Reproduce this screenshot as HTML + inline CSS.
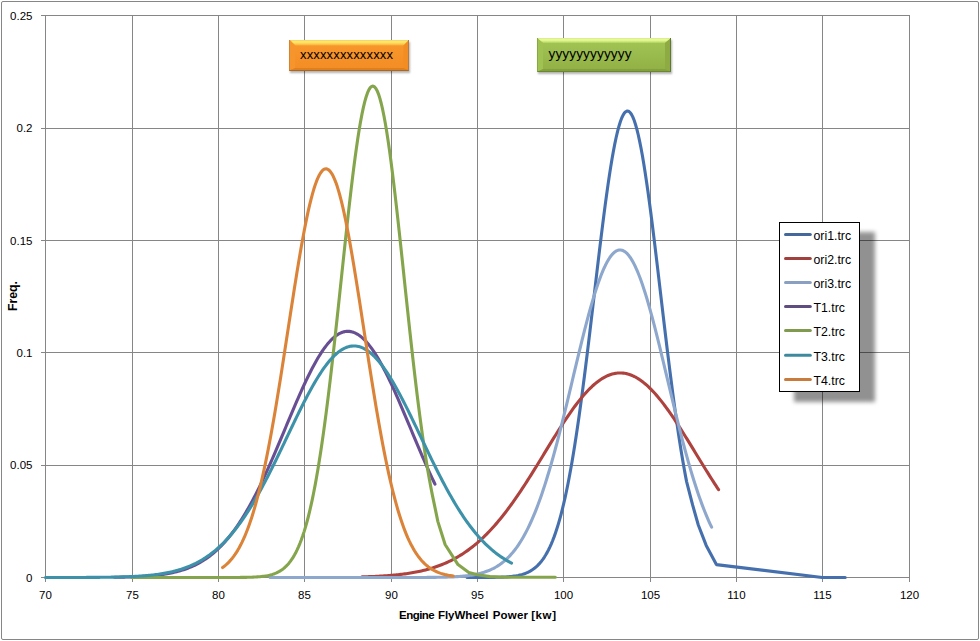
<!DOCTYPE html>
<html><head><meta charset="utf-8"><style>
html,body{margin:0;padding:0;background:#fff;}
body{width:980px;height:641px;position:relative;overflow:hidden;font-family:"Liberation Sans",sans-serif;color:#000;-webkit-font-smoothing:antialiased;}
.frame{position:absolute;left:1px;top:1px;width:978px;height:639px;box-sizing:border-box;border:1px solid #868686;border-radius:2px;}
svg{position:absolute;left:0;top:0;}
.yl{position:absolute;left:0;width:32.5px;text-align:right;font-size:11.5px;line-height:16px;}
.xl{position:absolute;top:587px;width:61px;text-align:center;font-size:11.5px;line-height:16px;}
.xw{position:absolute;top:606.5px;font-size:11.5px;font-weight:bold;line-height:16px;white-space:nowrap;}
.yt{position:absolute;left:4.5px;top:288px;width:16px;height:16px;font-size:12.3px;font-weight:bold;line-height:16px;}
.yt span{position:absolute;left:50%;top:50%;transform:translate(-50%,-50%) rotate(-90deg);white-space:nowrap;}
.legshadow{position:absolute;left:794px;top:232px;width:81px;height:170px;background:rgba(0,0,0,0.43);filter:blur(2px);}
.leg{position:absolute;left:779px;top:222px;width:81px;height:170px;box-sizing:border-box;border:1px solid #000;background:#fff;}
.lt{position:absolute;left:813.5px;font-size:12.3px;line-height:16px;}
.box{position:absolute;box-sizing:border-box;}
.box .t{position:absolute;left:0;right:0;top:0;bottom:0;}
</style></head><body>
<div class="frame"></div>
<svg width="980" height="641">
<g stroke="#868686" stroke-width="1" fill="none" shape-rendering="crispEdges">
<line x1="45.5" y1="15" x2="45.5" y2="582" />
<line x1="132.5" y1="15" x2="132.5" y2="582" />
<line x1="218.5" y1="15" x2="218.5" y2="582" />
<line x1="304.5" y1="15" x2="304.5" y2="582" />
<line x1="391.5" y1="15" x2="391.5" y2="582" />
<line x1="477.5" y1="15" x2="477.5" y2="582" />
<line x1="563.5" y1="15" x2="563.5" y2="582" />
<line x1="650.5" y1="15" x2="650.5" y2="582" />
<line x1="736.5" y1="15" x2="736.5" y2="582" />
<line x1="822.5" y1="15" x2="822.5" y2="582" />
<line x1="909.5" y1="15" x2="909.5" y2="582" />
<line x1="41" y1="15.5" x2="909.5" y2="15.5" />
<line x1="41" y1="128.5" x2="909.5" y2="128.5" />
<line x1="41" y1="240.5" x2="909.5" y2="240.5" />
<line x1="41" y1="352.5" x2="909.5" y2="352.5" />
<line x1="41" y1="465.5" x2="909.5" y2="465.5" />
<line x1="41" y1="577.5" x2="909.5" y2="577.5" />
</g>
<g fill="none" stroke-width="3.1" stroke-linecap="round" stroke-linejoin="round">
<path d="M467.13,577.50 468.51,577.50 469.89,577.49 471.27,577.49 472.65,577.49 474.03,577.49 475.41,577.49 476.79,577.48 478.17,577.48 479.55,577.48 480.93,577.47 482.31,577.47 483.69,577.46 485.07,577.45 486.46,577.44 487.84,577.43 489.22,577.42 490.60,577.40 491.98,577.39 493.36,577.37 494.74,577.34 496.12,577.31 497.50,577.28 498.88,577.24 500.26,577.20 501.64,577.14 503.02,577.08 504.40,577.01 505.78,576.93 507.16,576.84 508.54,576.73 509.92,576.61 511.30,576.47 512.68,576.31 514.06,576.13 515.44,575.92 516.82,575.68 518.20,575.42 519.58,575.11 520.96,574.77 522.34,574.38 523.72,573.95 525.10,573.46 526.48,572.91 527.86,572.30 529.24,571.61 530.62,570.85 532.00,570.00 533.38,569.06 534.76,568.01 536.14,566.85 537.52,565.58 538.90,564.17 540.28,562.62 541.66,560.92 543.04,559.06 544.42,557.02 545.80,554.80 547.19,552.38 548.57,549.75 549.95,546.89 551.33,543.81 552.71,540.47 554.09,536.88 555.47,533.01 556.85,528.86 558.23,524.41 559.61,519.66 560.99,514.59 562.37,509.19 563.75,503.46 565.13,497.39 566.51,490.97 567.89,484.19 569.27,477.06 570.65,469.56 572.03,461.71 573.41,453.50 574.79,444.94 576.17,436.03 577.55,426.79 578.93,417.21 580.31,407.33 581.69,397.14 583.07,386.67 584.45,375.95 585.83,364.99 587.21,353.82 588.59,342.46 589.97,330.96 591.35,319.34 592.73,307.64 594.11,295.90 595.49,284.15 596.87,272.43 598.25,260.80 599.63,249.29 601.01,237.95 602.39,226.82 603.77,215.96 605.15,205.39 606.53,195.19 607.92,185.37 609.30,176.00 610.68,167.12 612.06,158.76 613.44,150.97 614.82,143.78 616.20,137.23 617.58,131.35 618.96,126.18 620.34,121.73 621.72,118.03 623.10,115.10 624.48,112.95 625.86,111.60 627.24,111.05 628.62,111.31 630.00,112.37 631.38,114.22 632.76,116.87 634.14,120.29 635.52,124.47 636.90,129.38 638.28,135.00 639.66,141.31 641.04,148.27 642.42,155.84 643.80,164.00 645.18,172.70 646.56,181.90 647.94,191.55 649.32,201.62 650.70,212.06 652.08,222.82 653.46,233.86 654.84,245.13 656.22,256.58 657.60,268.17 658.98,279.86 660.36,291.60 661.74,303.35 663.12,315.07 664.50,326.73 665.88,338.28 667.26,349.69 668.65,360.93 670.03,371.97 671.41,382.78 672.79,393.35 674.17,403.64 675.55,413.64 676.93,423.33 678.31,432.69 679.69,441.73 681.07,450.42 682.45,458.75 683.83,466.74 685.21,474.36 686.59,481.62 692.60,504.90 698.30,525.00 706.20,545.40 716.40,564.60 822.24,577.50 845.22,577.50" stroke="#4570ad"/>
<path d="M362.07,576.88 363.45,576.84 364.83,576.80 366.21,576.75 367.60,576.71 368.98,576.66 370.36,576.61 371.74,576.55 373.12,576.49 374.51,576.43 375.89,576.37 377.27,576.30 378.65,576.22 380.03,576.15 381.41,576.07 382.80,575.98 384.18,575.89 385.56,575.80 386.94,575.70 388.32,575.60 389.70,575.49 391.09,575.38 392.47,575.26 393.85,575.13 395.23,575.00 396.61,574.86 397.99,574.71 399.38,574.56 400.76,574.40 402.14,574.23 403.52,574.06 404.90,573.88 406.28,573.68 407.67,573.48 409.05,573.27 410.43,573.05 411.81,572.82 413.19,572.58 414.58,572.33 415.96,572.07 417.34,571.80 418.72,571.52 420.10,571.22 421.48,570.91 422.87,570.59 424.25,570.26 425.63,569.91 427.01,569.54 428.39,569.17 429.77,568.77 431.16,568.37 432.54,567.94 433.92,567.50 435.30,567.05 436.68,566.57 438.06,566.08 439.45,565.57 440.83,565.05 442.21,564.50 443.59,563.93 444.97,563.35 446.36,562.74 447.74,562.11 449.12,561.46 450.50,560.79 451.88,560.10 453.26,559.38 454.65,558.64 456.03,557.88 457.41,557.09 458.79,556.28 460.17,555.44 461.55,554.58 462.94,553.69 464.32,552.78 465.70,551.84 467.08,550.87 468.46,549.88 469.84,548.86 471.23,547.81 472.61,546.73 473.99,545.62 475.37,544.49 476.75,543.32 478.13,542.13 479.52,540.90 480.90,539.65 482.28,538.37 483.66,537.05 485.04,535.71 486.43,534.34 487.81,532.93 489.19,531.50 490.57,530.03 491.95,528.54 493.33,527.01 494.72,525.46 496.10,523.87 497.48,522.26 498.86,520.61 500.24,518.94 501.62,517.23 503.01,515.50 504.39,513.74 505.77,511.95 507.15,510.13 508.53,508.29 509.91,506.41 511.30,504.52 512.68,502.59 514.06,500.64 515.44,498.67 516.82,496.67 518.21,494.65 519.59,492.61 520.97,490.54 522.35,488.46 523.73,486.35 525.11,484.23 526.50,482.09 527.88,479.93 529.26,477.76 530.64,475.57 532.02,473.37 533.40,471.16 534.79,468.93 536.17,466.70 537.55,464.46 538.93,462.21 540.31,459.96 541.69,457.70 543.08,455.44 544.46,453.17 545.84,450.91 547.22,448.65 548.60,446.39 549.98,444.14 551.37,441.89 552.75,439.65 554.13,437.42 555.51,435.21 556.89,433.00 558.28,430.81 559.66,428.64 561.04,426.48 562.42,424.35 563.80,422.23 565.18,420.14 566.57,418.07 567.95,416.03 569.33,414.02 570.71,412.04 572.09,410.09 573.47,408.18 574.86,406.29 576.24,404.45 577.62,402.64 579.00,400.88 580.38,399.15 581.76,397.47 583.15,395.83 584.53,394.24 585.91,392.70 587.29,391.20 588.67,389.76 590.06,388.36 591.44,387.03 592.82,385.74 594.20,384.51 595.58,383.34 596.96,382.22 598.35,381.17 599.73,380.17 601.11,379.23 602.49,378.36 603.87,377.55 605.25,376.80 606.64,376.12 608.02,375.50 609.40,374.95 610.78,374.46 612.16,374.04 613.54,373.69 614.93,373.40 616.31,373.18 617.69,373.03 619.07,372.95 620.45,372.93 621.83,372.99 623.22,373.11 624.60,373.30 625.98,373.56 627.36,373.88 628.74,374.27 630.13,374.73 631.51,375.25 632.89,375.84 634.27,376.50 635.65,377.22 637.03,378.00 638.42,378.85 639.80,379.76 641.18,380.73 642.56,381.76 643.94,382.85 645.32,384.00 646.71,385.20 648.09,386.46 649.47,387.78 650.85,389.15 652.23,390.57 653.61,392.05 655.00,393.57 656.38,395.14 657.76,396.76 659.14,398.42 660.52,400.13 661.91,401.88 663.29,403.67 664.67,405.49 666.05,407.36 667.43,409.26 668.81,411.20 670.20,413.17 671.58,415.16 672.96,417.19 674.34,419.25 675.72,421.33 677.10,423.43 678.49,425.56 679.87,427.71 681.25,429.87 682.63,432.06 684.01,434.25 685.39,436.47 686.78,438.69 688.16,440.93 689.54,443.17 690.92,445.42 692.30,447.68 693.68,449.93 695.07,452.20 696.45,454.46 697.83,456.72 699.21,458.98 700.59,461.24 701.98,463.49 703.36,465.74 704.74,467.97 706.12,470.20 707.50,472.42 708.88,474.63 710.27,476.82 711.65,479.00 713.03,481.16 714.41,483.31 715.79,485.44 717.17,487.55 718.56,489.65" stroke="#ad423e"/>
<path d="M270.14,577.50 271.52,577.50 272.90,577.50 274.28,577.50 275.66,577.50 277.04,577.50 278.42,577.50 279.80,577.50 281.18,577.50 282.56,577.50 283.94,577.50 285.32,577.50 286.70,577.50 288.08,577.50 289.46,577.50 290.84,577.50 292.22,577.50 293.59,577.50 294.97,577.50 296.35,577.50 297.73,577.50 299.11,577.50 300.49,577.50 301.87,577.50 303.25,577.50 304.63,577.50 306.01,577.50 307.39,577.50 308.77,577.50 310.15,577.50 311.53,577.50 312.91,577.50 314.29,577.50 315.67,577.50 317.05,577.50 318.43,577.50 319.81,577.50 321.19,577.50 322.57,577.50 323.95,577.50 325.33,577.50 326.71,577.50 328.09,577.50 329.47,577.50 330.85,577.50 332.23,577.50 333.61,577.50 334.99,577.50 336.37,577.50 337.75,577.50 339.12,577.50 340.50,577.50 341.88,577.50 343.26,577.50 344.64,577.50 346.02,577.50 347.40,577.50 348.78,577.50 350.16,577.50 351.54,577.50 352.92,577.50 354.30,577.50 355.68,577.50 357.06,577.50 358.44,577.50 359.82,577.50 361.20,577.50 362.58,577.50 363.96,577.50 365.34,577.50 366.72,577.50 368.10,577.50 369.48,577.50 370.86,577.50 372.24,577.50 373.62,577.50 375.00,577.50 376.38,577.50 377.76,577.50 379.14,577.50 380.52,577.50 381.90,577.50 383.28,577.50 384.66,577.50 386.03,577.50 387.41,577.50 388.79,577.50 390.17,577.50 391.55,577.50 392.93,577.50 394.31,577.50 395.69,577.50 397.07,577.50 398.45,577.49 399.83,577.49 401.21,577.49 402.59,577.49 403.97,577.49 405.35,577.49 406.73,577.49 408.11,577.49 409.49,577.48 410.87,577.48 412.25,577.48 413.63,577.48 415.01,577.47 416.39,577.47 417.77,577.46 419.15,577.46 420.53,577.45 421.91,577.45 423.29,577.44 424.67,577.44 426.05,577.43 427.43,577.42 428.81,577.41 430.19,577.40 431.56,577.38 432.94,577.37 434.32,577.35 435.70,577.33 437.08,577.31 438.46,577.29 439.84,577.27 441.22,577.24 442.60,577.21 443.98,577.18 445.36,577.14 446.74,577.10 448.12,577.06 449.50,577.01 450.88,576.95 452.26,576.89 453.64,576.83 455.02,576.75 456.40,576.67 457.78,576.59 459.16,576.49 460.54,576.39 461.92,576.27 463.30,576.15 464.68,576.01 466.06,575.86 467.44,575.70 468.82,575.52 470.20,575.33 471.58,575.12 472.96,574.89 474.34,574.65 475.72,574.38 477.10,574.09 478.47,573.78 479.85,573.44 481.23,573.08 482.61,572.68 483.99,572.26 485.37,571.80 486.75,571.31 488.13,570.79 489.51,570.22 490.89,569.61 492.27,568.96 493.65,568.27 495.03,567.52 496.41,566.73 497.79,565.88 499.17,564.98 500.55,564.01 501.93,562.99 503.31,561.90 504.69,560.74 506.07,559.52 507.45,558.22 508.83,556.84 510.21,555.38 511.59,553.84 512.97,552.22 514.35,550.51 515.73,548.70 517.11,546.80 518.49,544.80 519.87,542.71 521.25,540.51 522.63,538.20 524.00,535.79 525.38,533.26 526.76,530.62 528.14,527.87 529.52,525.00 530.90,522.01 532.28,518.90 533.66,515.67 535.04,512.31 536.42,508.84 537.80,505.24 539.18,501.51 540.56,497.66 541.94,493.69 543.32,489.59 544.70,485.37 546.08,481.03 547.46,476.58 548.84,472.00 550.22,467.32 551.60,462.52 552.98,457.61 554.36,452.61 555.74,447.50 557.12,442.30 558.50,437.01 559.88,431.64 561.26,426.20 562.64,420.68 564.02,415.10 565.40,409.46 566.78,403.78 568.16,398.06 569.53,392.30 570.91,386.52 572.29,380.74 573.67,374.94 575.05,369.16 576.43,363.39 577.81,357.65 579.19,351.94 580.57,346.29 581.95,340.69 583.33,335.17 584.71,329.73 586.09,324.38 587.47,319.13 588.85,314.00 590.23,309.00 591.61,304.13 592.99,299.42 594.37,294.86 595.75,290.47 597.13,286.26 598.51,282.24 599.89,278.42 601.27,274.81 602.65,271.41 604.03,268.24 605.41,265.30 606.79,262.60 608.17,260.15 609.55,257.95 610.93,256.01 612.31,254.34 613.69,252.93 615.07,251.79 616.44,250.92 617.82,250.33 619.20,250.02 620.58,249.99 621.96,250.23 623.34,250.75 624.72,251.55 626.10,252.63 627.48,253.97 628.86,255.59 630.24,257.46 631.62,259.60 633.00,261.99 634.38,264.63 635.76,267.51 637.14,270.63 638.52,273.97 639.90,277.53 641.28,281.30 642.66,285.28 644.04,289.44 645.42,293.79 646.80,298.30 648.18,302.98 649.56,307.81 650.94,312.79 652.32,317.89 653.70,323.10 655.08,328.43 656.46,333.85 657.84,339.36 659.22,344.94 660.60,350.58 661.97,356.27 663.35,362.00 664.73,367.77 666.11,373.55 667.49,379.34 668.87,385.13 670.25,390.91 671.63,396.67 673.01,402.40 674.39,408.10 675.77,413.75 677.15,419.34 678.53,424.87 679.91,430.34 681.29,435.73 682.67,441.04 684.05,446.26 685.43,451.39 686.81,456.42 688.19,461.35 689.57,466.17 690.95,470.88 692.33,475.49 693.71,479.97 695.09,484.34 696.47,488.59 697.85,492.71 699.23,496.72 700.61,500.59 701.99,504.35 703.37,507.98 704.75,511.49 706.13,514.87 707.50,518.13 708.88,521.27 710.26,524.29 711.64,527.19" stroke="#8ea7cd"/>
<path d="M114.62,577.26 116.00,577.24 117.38,577.22 118.76,577.20 120.14,577.17 121.52,577.15 122.91,577.12 124.29,577.09 125.67,577.05 127.05,577.02 128.43,576.98 129.81,576.94 131.19,576.89 132.57,576.84 133.95,576.79 135.33,576.73 136.71,576.68 138.10,576.61 139.48,576.54 140.86,576.47 142.24,576.39 143.62,576.31 145.00,576.22 146.38,576.13 147.76,576.03 149.14,575.92 150.52,575.80 151.90,575.68 153.29,575.55 154.67,575.42 156.05,575.27 157.43,575.11 158.81,574.95 160.19,574.77 161.57,574.59 162.95,574.39 164.33,574.18 165.71,573.96 167.09,573.72 168.48,573.48 169.86,573.21 171.24,572.94 172.62,572.64 174.00,572.34 175.38,572.01 176.76,571.67 178.14,571.31 179.52,570.93 180.90,570.52 182.28,570.10 183.67,569.66 185.05,569.19 186.43,568.70 187.81,568.19 189.19,567.65 190.57,567.09 191.95,566.50 193.33,565.88 194.71,565.23 196.09,564.55 197.47,563.84 198.86,563.10 200.24,562.32 201.62,561.52 203.00,560.67 204.38,559.79 205.76,558.88 207.14,557.93 208.52,556.93 209.90,555.90 211.28,554.83 212.66,553.72 214.05,552.56 215.43,551.36 216.81,550.11 218.19,548.82 219.57,547.49 220.95,546.11 222.33,544.68 223.71,543.20 225.09,541.67 226.47,540.09 227.85,538.46 229.24,536.78 230.62,535.05 232.00,533.27 233.38,531.43 234.76,529.54 236.14,527.60 237.52,525.61 238.90,523.56 240.28,521.46 241.66,519.30 243.04,517.10 244.43,514.83 245.81,512.52 247.19,510.15 248.57,507.73 249.95,505.26 251.33,502.74 252.71,500.16 254.09,497.54 255.47,494.87 256.85,492.15 258.23,489.39 259.62,486.58 261.00,483.72 262.38,480.82 263.76,477.89 265.14,474.91 266.52,471.89 267.90,468.84 269.28,465.76 270.66,462.64 272.04,459.50 273.42,456.33 274.81,453.13 276.19,449.91 277.57,446.67 278.95,443.42 280.33,440.15 281.71,436.87 283.09,433.58 284.47,430.29 285.85,426.99 287.23,423.70 288.61,420.41 290.00,417.12 291.38,413.85 292.76,410.60 294.14,407.36 295.52,404.14 296.90,400.95 298.28,397.79 299.66,394.66 301.04,391.56 302.42,388.51 303.80,385.50 305.19,382.53 306.57,379.62 307.95,376.76 309.33,373.96 310.71,371.22 312.09,368.55 313.47,365.94 314.85,363.41 316.23,360.95 317.61,358.57 318.99,356.27 320.38,354.06 321.76,351.93 323.14,349.89 324.52,347.95 325.90,346.11 327.28,344.36 328.66,342.72 330.04,341.17 331.42,339.74 332.80,338.41 334.18,337.19 335.57,336.08 336.95,335.09 338.33,334.21 339.71,333.45 341.09,332.80 342.47,332.27 343.85,331.86 345.23,331.57 346.61,331.40 347.99,331.34 349.37,331.41 350.76,331.60 352.14,331.91 353.52,332.33 354.90,332.88 356.28,333.54 357.66,334.32 359.04,335.22 360.42,336.23 361.80,337.35 363.18,338.58 364.56,339.93 365.95,341.38 367.33,342.93 368.71,344.59 370.09,346.35 371.47,348.21 372.85,350.17 374.23,352.21 375.61,354.35 376.99,356.58 378.37,358.89 379.75,361.28 381.14,363.75 382.52,366.29 383.90,368.91 385.28,371.59 386.66,374.34 388.04,377.15 389.42,380.01 390.80,382.93 392.18,385.90 393.56,388.92 394.94,391.98 396.33,395.08 397.71,398.21 399.09,401.38 400.47,404.58 401.85,407.80 403.23,411.04 404.61,414.30 405.99,417.57 407.37,420.85 408.75,424.14 410.13,427.44 411.52,430.73 412.90,434.03 414.28,437.31 415.66,440.59 417.04,443.86 418.42,447.11 419.80,450.35 421.18,453.57 422.56,456.76 423.94,459.93 425.32,463.07 426.71,466.18 428.09,469.26 429.47,472.31 430.85,475.32 432.23,478.29 433.61,481.22 434.99,484.11" stroke="#684f94"/>
<path d="M131.90,577.50 133.28,577.50 134.66,577.50 136.03,577.50 137.41,577.50 138.79,577.50 140.17,577.50 141.54,577.50 142.92,577.50 144.30,577.50 145.68,577.50 147.05,577.50 148.43,577.50 149.81,577.50 151.19,577.50 152.56,577.50 153.94,577.50 155.32,577.50 156.70,577.50 158.08,577.50 159.45,577.50 160.83,577.50 162.21,577.50 163.59,577.50 164.96,577.50 166.34,577.50 167.72,577.50 169.10,577.50 170.47,577.50 171.85,577.50 173.23,577.50 174.61,577.50 175.98,577.50 177.36,577.50 178.74,577.50 180.12,577.50 181.50,577.50 182.87,577.50 184.25,577.50 185.63,577.50 187.01,577.50 188.38,577.50 189.76,577.50 191.14,577.50 192.52,577.50 193.89,577.50 195.27,577.50 196.65,577.50 198.03,577.50 199.40,577.50 200.78,577.50 202.16,577.50 203.54,577.50 204.92,577.50 206.29,577.50 207.67,577.50 209.05,577.50 210.43,577.50 211.80,577.50 213.18,577.50 214.56,577.50 215.94,577.50 217.31,577.50 218.69,577.50 220.07,577.50 221.45,577.50 222.82,577.49 224.20,577.49 225.58,577.49 226.96,577.49 228.34,577.49 229.71,577.48 231.09,577.48 232.47,577.48 233.85,577.47 235.22,577.46 236.60,577.46 237.98,577.45 239.36,577.44 240.73,577.42 242.11,577.41 243.49,577.39 244.87,577.37 246.24,577.34 247.62,577.31 249.00,577.28 250.38,577.24 251.76,577.19 253.13,577.13 254.51,577.07 255.89,576.99 257.27,576.90 258.64,576.80 260.02,576.68 261.40,576.54 262.78,576.38 264.15,576.20 265.53,575.99 266.91,575.75 268.29,575.47 269.66,575.16 271.04,574.80 272.42,574.39 273.80,573.94 275.17,573.42 276.55,572.83 277.93,572.17 279.31,571.42 280.69,570.59 282.06,569.66 283.44,568.62 284.82,567.46 286.20,566.16 287.57,564.73 288.95,563.15 290.33,561.39 291.71,559.46 293.08,557.34 294.46,555.01 295.84,552.45 297.22,549.66 298.59,546.62 299.97,543.31 301.35,539.72 302.73,535.83 304.11,531.62 305.48,527.09 306.86,522.22 308.24,516.99 309.62,511.40 310.99,505.42 312.37,499.05 313.75,492.29 315.13,485.12 316.50,477.53 317.88,469.53 319.26,461.11 320.64,452.27 322.01,443.01 323.39,433.35 324.77,423.29 326.15,412.85 327.53,402.03 328.90,390.85 330.28,379.34 331.66,367.53 333.04,355.43 334.41,343.08 335.79,330.52 337.17,317.78 338.55,304.91 339.92,291.94 341.30,278.93 342.68,265.92 344.06,252.96 345.43,240.11 346.81,227.41 348.19,214.93 349.57,202.73 350.95,190.85 352.32,179.35 353.70,168.30 355.08,157.74 356.46,147.73 357.83,138.31 359.21,129.55 360.59,121.49 361.97,114.16 363.34,107.61 364.72,101.88 366.10,97.00 367.48,92.99 368.85,89.89 370.23,87.69 371.61,86.43 372.99,86.10 374.37,86.71 375.74,88.25 377.12,90.71 378.50,94.09 379.88,98.36 381.25,103.50 382.63,109.47 384.01,116.26 385.39,123.81 386.76,132.08 388.14,141.04 389.52,150.64 390.90,160.82 392.27,171.53 393.65,182.72 395.03,194.34 396.41,206.32 397.79,218.61 399.16,231.16 400.54,243.91 401.92,256.80 403.30,269.78 404.67,282.79 406.05,295.80 407.43,308.74 408.81,321.58 410.18,334.27 411.56,346.77 412.94,359.05 414.32,371.06 415.69,382.79 417.07,394.20 418.45,405.28 419.83,415.99 421.21,426.32 422.58,436.26 423.96,445.80 425.34,454.93 426.72,463.65 428.09,471.95 429.47,479.82 430.85,487.29 432.23,494.34 437.90,521.60 445.10,544.50 458.00,564.60 468.80,572.50 477.40,574.80 490.00,576.60 505.00,577.20 555.30,577.30" stroke="#85a54c"/>
<path d="M45.50,577.49 46.88,577.49 48.26,577.49 49.64,577.49 51.02,577.49 52.39,577.49 53.77,577.49 55.15,577.49 56.53,577.49 57.91,577.49 59.29,577.49 60.67,577.48 62.05,577.48 63.42,577.48 64.80,577.48 66.18,577.48 67.56,577.48 68.94,577.47 70.32,577.47 71.70,577.47 73.08,577.47 74.46,577.46 75.83,577.46 77.21,577.46 78.59,577.45 79.97,577.45 81.35,577.44 82.73,577.44 84.11,577.43 85.49,577.43 86.86,577.42 88.24,577.41 89.62,577.40 91.00,577.40 92.38,577.39 93.76,577.38 95.14,577.37 96.52,577.36 97.90,577.35 99.27,577.33 100.65,577.32 102.03,577.31 103.41,577.29 104.79,577.27 106.17,577.26 107.55,577.24 108.93,577.22 110.30,577.19 111.68,577.17 113.06,577.14 114.44,577.12 115.82,577.09 117.20,577.06 118.58,577.02 119.96,576.99 121.34,576.95 122.71,576.91 124.09,576.86 125.47,576.82 126.85,576.77 128.23,576.72 129.61,576.66 130.99,576.60 132.37,576.53 133.74,576.47 135.12,576.39 136.50,576.32 137.88,576.24 139.26,576.15 140.64,576.06 142.02,575.96 143.40,575.86 144.78,575.75 146.15,575.63 147.53,575.51 148.91,575.38 150.29,575.24 151.67,575.09 153.05,574.94 154.43,574.78 155.81,574.61 157.18,574.42 158.56,574.23 159.94,574.03 161.32,573.82 162.70,573.60 164.08,573.36 165.46,573.11 166.84,572.85 168.22,572.58 169.59,572.29 170.97,571.98 172.35,571.66 173.73,571.33 175.11,570.98 176.49,570.61 177.87,570.23 179.25,569.82 180.62,569.40 182.00,568.96 183.38,568.50 184.76,568.01 186.14,567.51 187.52,566.98 188.90,566.43 190.28,565.86 191.66,565.26 193.03,564.63 194.41,563.98 195.79,563.31 197.17,562.60 198.55,561.87 199.93,561.11 201.31,560.31 202.69,559.49 204.06,558.64 205.44,557.75 206.82,556.83 208.20,555.88 209.58,554.89 210.96,553.87 212.34,552.81 213.72,551.71 215.10,550.58 216.47,549.41 217.85,548.21 219.23,546.96 220.61,545.67 221.99,544.35 223.37,542.98 224.75,541.57 226.13,540.12 227.50,538.63 228.88,537.10 230.26,535.52 231.64,533.90 233.02,532.24 234.40,530.53 235.78,528.78 237.16,526.99 238.53,525.15 239.91,523.27 241.29,521.34 242.67,519.37 244.05,517.36 245.43,515.30 246.81,513.20 248.19,511.06 249.57,508.88 250.94,506.65 252.32,504.39 253.70,502.08 255.08,499.73 256.46,497.35 257.84,494.92 259.22,492.46 260.60,489.96 261.97,487.43 263.35,484.86 264.73,482.26 266.11,479.63 267.49,476.97 268.87,474.28 270.25,471.57 271.63,468.83 273.01,466.06 274.38,463.27 275.76,460.47 277.14,457.64 278.52,454.80 279.90,451.94 281.28,449.08 282.66,446.20 284.04,443.32 285.41,440.43 286.79,437.53 288.17,434.64 289.55,431.75 290.93,428.86 292.31,425.98 293.69,423.11 295.07,420.26 296.45,417.42 297.82,414.59 299.20,411.79 300.58,409.01 301.96,406.25 303.34,403.53 304.72,400.83 306.10,398.18 307.48,395.55 308.85,392.97 310.23,390.43 311.61,387.94 312.99,385.49 314.37,383.10 315.75,380.76 317.13,378.47 318.51,376.25 319.89,374.08 321.26,371.98 322.64,369.95 324.02,367.98 325.40,366.09 326.78,364.27 328.16,362.52 329.54,360.86 330.92,359.27 332.29,357.76 333.67,356.34 335.05,355.00 336.43,353.75 337.81,352.59 339.19,351.52 340.57,350.54 341.95,349.65 343.33,348.85 344.70,348.15 346.08,347.55 347.46,347.04 348.84,346.63 350.22,346.32 351.60,346.10 352.98,345.98 354.36,345.96 355.73,346.04 357.11,346.21 358.49,346.49 359.87,346.86 361.25,347.33 362.63,347.90 364.01,348.56 365.39,349.31 366.77,350.16 368.14,351.11 369.52,352.14 370.90,353.27 372.28,354.48 373.66,355.78 375.04,357.17 376.42,358.64 377.80,360.20 379.17,361.83 380.55,363.55 381.93,365.34 383.31,367.20 384.69,369.14 386.07,371.14 387.45,373.22 388.83,375.36 390.21,377.56 391.58,379.82 392.96,382.14 394.34,384.51 395.72,386.93 397.10,389.41 398.48,391.93 399.86,394.49 401.24,397.10 402.61,399.74 403.99,402.42 405.37,405.14 406.75,407.88 408.13,410.65 409.51,413.44 410.89,416.26 412.27,419.10 413.65,421.95 415.02,424.81 416.40,427.69 417.78,430.57 419.16,433.46 420.54,436.35 421.92,439.25 423.30,442.14 424.68,445.02 426.05,447.90 427.43,450.78 428.81,453.64 430.19,456.48 431.57,459.32 432.95,462.13 434.33,464.93 435.71,467.70 437.09,470.45 438.46,473.18 439.84,475.88 441.22,478.55 442.60,481.19 443.98,483.81 445.36,486.39 446.74,488.93 448.12,491.45 449.49,493.92 450.87,496.36 452.25,498.76 453.63,501.13 455.01,503.45 456.39,505.73 457.77,507.97 459.15,510.18 460.53,512.33 461.90,514.45 463.28,516.52 464.66,518.56 466.04,520.54 467.42,522.49 468.80,524.39 470.18,526.24 471.56,528.05 472.93,529.82 474.31,531.55 475.69,533.23 477.07,534.86 478.45,536.46 479.83,538.01 481.21,539.52 482.59,540.98 483.97,542.41 485.34,543.79 486.72,545.14 488.10,546.44 489.48,547.70 490.86,548.93 492.24,550.11 493.62,551.26 495.00,552.37 496.37,553.44 497.75,554.48 499.13,555.48 500.51,556.45 501.89,557.38 503.27,558.28 504.65,559.15 506.03,559.98 507.41,560.79 508.78,561.56 510.16,562.31 511.54,563.02" stroke="#3d92aa"/>
<path d="M222.62,567.53 224.00,566.49 225.38,565.37 226.76,564.15 228.15,562.82 229.53,561.39 230.91,559.84 232.29,558.16 233.67,556.35 235.05,554.41 236.43,552.32 237.82,550.07 239.20,547.67 240.58,545.10 241.96,542.35 243.34,539.42 244.72,536.30 246.10,532.99 247.48,529.47 248.87,525.75 250.25,521.81 251.63,517.64 253.01,513.26 254.39,508.64 255.77,503.79 257.15,498.70 258.54,493.37 259.92,487.80 261.30,481.99 262.68,475.93 264.06,469.64 265.44,463.11 266.82,456.34 268.21,449.34 269.59,442.12 270.97,434.68 272.35,427.04 273.73,419.19 275.11,411.16 276.49,402.94 277.87,394.57 279.26,386.05 280.64,377.40 282.02,368.63 283.40,359.77 284.78,350.84 286.16,341.85 287.54,332.83 288.93,323.80 290.31,314.79 291.69,305.81 293.07,296.91 294.45,288.09 295.83,279.40 297.21,270.85 298.60,262.47 299.98,254.30 301.36,246.35 302.74,238.66 304.12,231.24 305.50,224.14 306.88,217.37 308.26,210.95 309.65,204.92 311.03,199.28 312.41,194.08 313.79,189.31 315.17,185.01 316.55,181.18 317.93,177.85 319.32,175.03 320.70,172.72 322.08,170.94 323.46,169.70 324.84,168.99 326.22,168.82 327.60,169.20 328.99,170.12 330.37,171.57 331.75,173.56 333.13,176.06 334.51,179.09 335.89,182.61 337.27,186.62 338.65,191.11 340.04,196.04 341.42,201.42 342.80,207.21 344.18,213.40 345.56,219.95 346.94,226.86 348.32,234.09 349.71,241.61 351.09,249.41 352.47,257.44 353.85,265.70 355.23,274.15 356.61,282.76 357.99,291.50 359.38,300.35 360.76,309.29 362.14,318.28 363.52,327.30 364.90,336.33 366.28,345.34 367.66,354.31 369.04,363.22 370.43,372.05 371.81,380.77 373.19,389.37 374.57,397.84 375.95,406.15 377.33,414.29 378.71,422.26 380.10,430.03 381.48,437.60 382.86,444.95 384.24,452.09 385.62,458.99 387.00,465.67 388.38,472.11 389.77,478.31 391.15,484.27 392.53,489.99 393.91,495.46 395.29,500.70 396.67,505.70 398.05,510.46 399.43,514.99 400.82,519.29 402.20,523.36 403.58,527.22 404.96,530.86 406.34,534.30 407.72,537.54 409.10,540.58 410.49,543.44 411.87,546.12 413.25,548.62 414.63,550.96 416.01,553.15 417.39,555.18 418.77,557.07 420.16,558.82 421.54,560.45 422.92,561.96 424.30,563.35 425.68,564.63 427.06,565.82 428.44,566.91 429.82,567.91 431.21,568.82 432.59,569.66 433.97,570.43 435.35,571.13 436.73,571.77 438.11,572.35 439.49,572.88 440.88,573.36 442.26,573.80 443.64,574.19 445.02,574.55 446.40,574.87 447.78,575.16 449.16,575.42 450.55,575.65 451.93,575.86 453.31,576.05" stroke="#db8439"/>
</g>
</svg>
<div class="yl" style="top:8px">0.25</div>
<div class="yl" style="top:120px">0.2</div>
<div class="yl" style="top:233px">0.15</div>
<div class="yl" style="top:345px">0.1</div>
<div class="yl" style="top:457px">0.05</div>
<div class="yl" style="top:570px">0</div>
<div class="xl" style="left:15px">70</div>
<div class="xl" style="left:102px">75</div>
<div class="xl" style="left:188px">80</div>
<div class="xl" style="left:274px">85</div>
<div class="xl" style="left:361px">90</div>
<div class="xl" style="left:447px">95</div>
<div class="xl" style="left:533px">100</div>
<div class="xl" style="left:620px">105</div>
<div class="xl" style="left:706px">110</div>
<div class="xl" style="left:792px">115</div>
<div class="xl" style="left:879px">120</div>
<div class="xw" style="left:399.1px;letter-spacing:-0.55px">Engine</div><div class="xw" style="left:437.9px">FlyWheel</div><div class="xw" style="left:492.8px;letter-spacing:0.15px">Power</div><div class="xw" style="left:531.2px;letter-spacing:0.6px">[kw]</div>
<div class="yt"><span>Freq.</span></div>
<div class="legshadow"></div>
<div class="leg"></div>
<svg width="980" height="641"><g fill="none" stroke-width="3" stroke-linecap="round"><line x1="785.5" y1="234.4" x2="810.3" y2="234.4" stroke="#44689c"/>
<line x1="785.5" y1="258.5" x2="810.3" y2="258.5" stroke="#a0413e"/>
<line x1="785.5" y1="282.4" x2="810.3" y2="282.4" stroke="#8aa0c2"/>
<line x1="785.5" y1="306.4" x2="810.3" y2="306.4" stroke="#604d80"/>
<line x1="785.5" y1="330.4" x2="810.3" y2="330.4" stroke="#809b4e"/>
<line x1="785.5" y1="355.3" x2="810.3" y2="355.3" stroke="#3d8a9e"/>
<line x1="785.5" y1="379.4" x2="810.3" y2="379.4" stroke="#c97b3c"/></g></svg>
<div class="lt" style="top:228.0px">ori1.trc</div>
<div class="lt" style="top:252.1px">ori2.trc</div>
<div class="lt" style="top:276.0px">ori3.trc</div>
<div class="lt" style="top:300.0px">T1.trc</div>
<div class="lt" style="top:324.0px">T2.trc</div>
<div class="lt" style="top:348.9px">T3.trc</div>
<div class="lt" style="top:373.0px">T4.trc</div>
<div style="position:absolute;left:289.2px;top:39.5px;width:120.3px;height:31px;box-shadow:1px 1.5px 2px rgba(0,0,0,0.30);background:linear-gradient(#f8982d,#f38c24);overflow:hidden;"><div style="position:absolute;left:0;top:0;width:120.3px;height:31px;background:linear-gradient(#ecc572 0px,#ffe866 1px,#fee262 2.6px,#fcc54d 4.2px,#f9a535 6px);clip-path:polygon(0px 0px,120.3px 0px,114.3px 6px,6px 6px);"></div><div style="position:absolute;left:0;top:0;width:120.3px;height:31px;background:#f6952b;clip-path:polygon(0px 0px,6px 6px,6px 28.5px,0px 31px);"></div><div style="position:absolute;left:0;top:0;width:120.3px;height:31px;background:#f18d23;clip-path:polygon(120.3px 0px,120.3px 31px,114.3px 28.5px,114.3px 6px);"></div><div style="position:absolute;left:0;top:0;width:120.3px;height:31px;background:#df801d;clip-path:polygon(0px 31px,6px 28.5px,114.3px 28.5px,120.3px 31px);"></div><div style="position:absolute;left:0;top:0;width:120.3px;height:31px;box-sizing:border-box;border-right:1px solid #b97a40;border-bottom:1px solid #a8682a;border-left:1px solid #d08434;"></div><div style="position:absolute;left:10.8px;top:7.5px;font-size:13px;line-height:16px;white-space:nowrap;letter-spacing:0.15px">xxxxxxxxxxxxxx</div></div><div style="position:absolute;left:537px;top:38px;width:134px;height:34px;box-shadow:1px 1.5px 2px rgba(0,0,0,0.30);background:linear-gradient(#a3c656,#90af45);overflow:hidden;"><div style="position:absolute;left:0;top:0;width:134px;height:34px;background:linear-gradient(#cfe482 0px,#e8fa98 1px,#e2f692 2.4px,#c8e574 3.8px,#acce5e 5px);clip-path:polygon(0px 0px,134px 0px,128px 5px,6px 5px);"></div><div style="position:absolute;left:0;top:0;width:134px;height:34px;background:#9fc252;clip-path:polygon(0px 0px,6px 5px,6px 31px,0px 34px);"></div><div style="position:absolute;left:0;top:0;width:134px;height:34px;background:#8dab42;clip-path:polygon(134px 0px,134px 34px,128px 31px,128px 5px);"></div><div style="position:absolute;left:0;top:0;width:134px;height:34px;background:#83a23c;clip-path:polygon(0px 34px,6px 31px,128px 31px,134px 34px);"></div><div style="position:absolute;left:0;top:0;width:134px;height:34px;box-sizing:border-box;border-right:1px solid #5f7a30;border-bottom:1px solid #6b8736;border-left:1px solid #88a844;"></div><div style="position:absolute;left:11.5px;top:7.8px;font-size:13.7px;line-height:16px;white-space:nowrap;letter-spacing:0.08px">yyyyyyyyyyyy</div></div>
</body></html>
